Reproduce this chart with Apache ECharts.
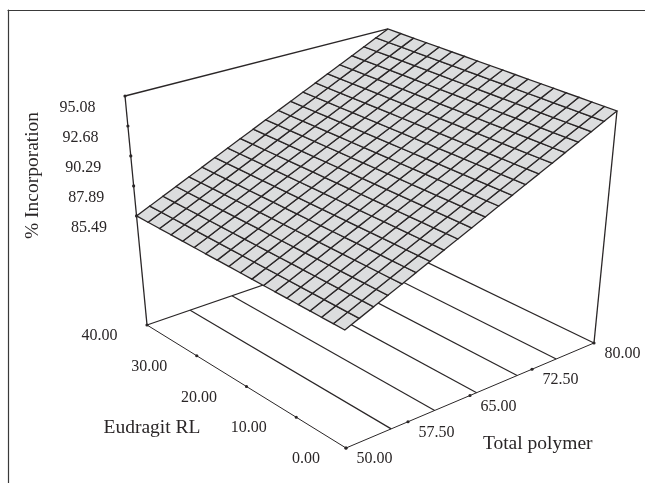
<!DOCTYPE html>
<html><head><meta charset="utf-8">
<style>html,body{margin:0;padding:0;background:#fff}#c{width:645px;height:483px}</style>
<script src="https://cdn.jsdelivr.net/npm/echarts@6/dist/echarts.min.js"></script>
</head><body><div id="c"></div>
<script>
const totalTicks = [50.0, 57.5, 65.0, 72.5, 80.0];
const totalLabels = ['50.00','57.50','65.00','72.50','80.00'];
const rlTicks = [40, 30, 20, 10, 0];
const rlLabels = ['40.00','30.00','20.00','10.00','0.00'];
const zTicks = [95.08, 92.68, 90.29, 87.89, 85.49];
const zLabels = ['95.08','92.68','90.29','87.89','85.49'];
const zFloor = 75.90;
const totalGrid = [50,51.5,53,54.5,56,57.5,59,60.5,62,63.5,65,66.5,68,69.5,71,72.5,74,75.5,77,78.5,80];
const rlGrid = [0,1.96,3.96,5.99,8.04,10.12,12.23,14.37,16.54,18.74,20.97,23.22,25.52,27.84,30.20,32.60,35.02,37.49,40];
const incorporation = [85.49,85.97,86.45,86.93,87.41,87.89,88.37,88.85,89.33,89.81,90.29,90.77,91.24,91.72,92.20,92.68,93.16,93.64,94.12,94.60,95.08];
const contourTotals = [55,60,65,70,75];

const ink = '#2a2627';
const P = {ax:[346,315.7,-179.1,-37.83], ay:[448,-65.9,-79,-269.88], d:[1,0.114,0.1353,-0.1028]};
function project(t,r,z){
  const u=(t-50)/30, v=r/40, w=(z-zFloor)/(95.08-zFloor);
  const f=(c)=>c[0]+c[1]*u+c[2]*v+c[3]*w;
  const d=f(P.d);
  return [f(P.ax)/d, f(P.ay)/d];
}
const lerp=(a,b,s)=>[a[0]+(b[0]-a[0])*s,a[1]+(b[1]-a[1])*s];

const tA=project(50,0,zFloor), tB=project(80,0,zFloor);
const rA=project(50,40,zFloor), rB=project(50,0,zFloor);
const zA=project(50,40,95.08), zB=project(50,40,85.49);
const tickData=[];
totalTicks.forEach((v,i)=>{const p=lerp(tA,tB,(v-50)/30);tickData.push([p[0],p[1],totalLabels[i],28.5,11]);});
rlTicks.forEach((v,i)=>{const p=lerp(rA,rB,(40-v)/40);tickData.push([p[0],p[1],rlLabels[i],i===4?-40:-47.5,11]);});
zTicks.forEach((v,i)=>{const p=lerp(zA,zB,(95.08-v)/(95.08-85.49));tickData.push([p[0],p[1],zLabels[i],-47.5,11.5]);});

const frame=[
 [50,40,zFloor,50,40,95.08,1.3],[50,40,95.08,80,40,95.08,1.3],[80,0,95.08,80,0,zFloor,1.3],
 [50,40,zFloor,80,40,zFloor,1.2],[80,0,zFloor,80,40,zFloor,1.2],
 [50,40,zFloor,50,0,zFloor,1],[50,0,zFloor,80,0,zFloor,1]
];
contourTotals.forEach(t=>frame.push([t,0,zFloor,t,40,zFloor,1.2]));

const cells=[];
for(let i=0;i<totalGrid.length-1;i++)for(let j=0;j<rlGrid.length-1;j++)
  cells.push([totalGrid[i],totalGrid[i+1],rlGrid[j],rlGrid[j+1],incorporation[i],incorporation[i+1]]);

const serif='"Liberation Serif","Times New Roman",serif';
const chart=echarts.init(document.getElementById('c'));
chart.setOption({
 animation:false,
 grid:{left:8,top:10,right:0,bottom:0,containLabel:false},
 xAxis:{type:'value',position:'top',min:8,max:645,splitLine:{show:false},axisTick:{show:false},axisLabel:{show:false},axisLine:{show:true,onZero:false,lineStyle:{color:'#3a3a3a',width:1.2}}},
 yAxis:{type:'value',inverse:true,min:10,max:483,splitLine:{show:false},axisTick:{show:false},axisLabel:{show:false},axisLine:{show:true,onZero:false,lineStyle:{color:'#3a3a3a',width:1.2}}},
 graphic:[
  {type:'text',x:33,y:175.5,rotation:Math.PI/2,style:{text:'% Incorporation',font:'19.5px '+serif,fill:ink,align:'center',verticalAlign:'middle'},z:10},
  {type:'text',x:152,y:427.5,style:{text:'Eudragit RL',font:'19.5px '+serif,fill:ink,align:'center',verticalAlign:'middle'},z:10},
  {type:'text',x:537.7,y:444,style:{text:'Total polymer',font:'19.5px '+serif,fill:ink,align:'center',verticalAlign:'middle'},z:10}
 ],
 series:[
  {type:'custom',coordinateSystem:'cartesian2d',silent:true,clip:false,z:2,data:frame,encode:{x:0,y:1},
   renderItem(p,api){
    const a=api.coord(project(api.value(0),api.value(1),api.value(2)));
    const b=api.coord(project(api.value(3),api.value(4),api.value(5)));
    return {type:'line',shape:{x1:a[0],y1:a[1],x2:b[0],y2:b[1]},style:{stroke:ink,lineWidth:api.value(6)}};
   }},
  {type:'custom',coordinateSystem:'cartesian2d',silent:true,clip:false,z:3,data:cells,encode:{x:0,y:2},
   renderItem(p,api){
    const t0=api.value(0),t1=api.value(1),r0=api.value(2),r1=api.value(3),z0=api.value(4),z1=api.value(5);
    const pts=[[t0,r0,z0],[t1,r0,z1],[t1,r1,z1],[t0,r1,z0]].map(q=>api.coord(project(q[0],q[1],q[2])));
    return {type:'polygon',shape:{points:pts},style:{fill:'#dcddde',stroke:ink,lineWidth:1.3}};
   }},
  {type:'custom',coordinateSystem:'cartesian2d',silent:true,clip:false,z:4,data:tickData,encode:{x:0,y:1},
   renderItem(p,api){
    const c=api.coord([api.value(0),api.value(1)]);
    return {type:'group',children:[
     {type:'circle',shape:{cx:c[0],cy:c[1],r:1.6},style:{fill:ink}},
     {type:'text',x:c[0]+api.value(3),y:c[1]+api.value(4),style:{text:tickData[p.dataIndex][2],font:'16px '+serif,fill:ink,align:'center',verticalAlign:'middle'}}
    ]};
   }}
 ]
});
</script></body></html>
